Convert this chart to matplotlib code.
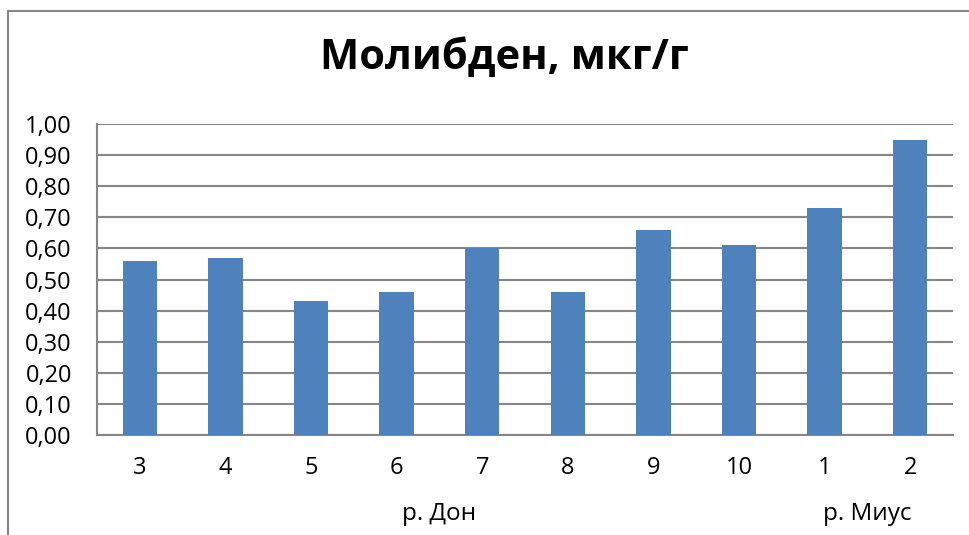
import matplotlib.pyplot as plt
from matplotlib.patches import Rectangle
from matplotlib.ticker import FuncFormatter

plt.rcParams['font.family'] = ['Open Sans', 'DejaVu Sans']

points  = ['3', '4', '5', '6', '7', '8', '9', '10', '1', '2']
molybd  = [0.56, 0.57, 0.43, 0.46, 0.60, 0.46, 0.66, 0.61, 0.73, 0.95]
rivers  = ['р. Дон', 'р. Миус']
n_river = [8, 2]   # how many points belong to each river

fig = plt.figure(figsize=(9.7, 5.35), dpi=100)
ax  = fig.add_axes([97/970, 100/535, 856/970, 311/535])

x = range(len(points))
ax.bar(x, molybd, width=0.4, color='#4F81BD', zorder=3)

ax.set_xlim(-0.5, len(points) - 0.5)
ax.set_ylim(0, 1.0)
ax.set_yticks([i / 10 for i in range(11)])
ax.yaxis.set_major_formatter(FuncFormatter(lambda v, p: ('%.2f' % v).replace('.', ',')))
ax.set_xticks(list(x))
ax.set_xticklabels(points)
ax.tick_params(axis='both', length=0, labelsize=17)
ax.tick_params(axis='x', pad=15)
ax.tick_params(axis='y', pad=18)
ax.grid(axis='y', color='#868686', linewidth=1.5, zorder=0)

for s in ['top', 'right']:
    ax.spines[s].set_visible(False)
for s in ['left', 'bottom']:
    ax.spines[s].set_color('#868686')
    ax.spines[s].set_linewidth(1.5)

# river names under the point labels
start = 0
for name, cnt in zip(rivers, n_river):
    mid = start + (cnt - 1) / 2
    ax.text(mid, -0.255, name, ha='center', va='center', fontsize=17.5,
            transform=ax.get_xaxis_transform())
    start += cnt

fig.text(504/970, 1 - 58/535, 'Молибден, мкг/г', ha='center', va='center',
         fontsize=30, fontweight='bold')

# chart frame
fig.patches.append(Rectangle((8/970, -0.1), 1.1, 1 - 11/535 + 0.1, transform=fig.transFigure,
                             fill=False, edgecolor='#868686', linewidth=1.5))

fig.savefig('out.png', dpi=100)
